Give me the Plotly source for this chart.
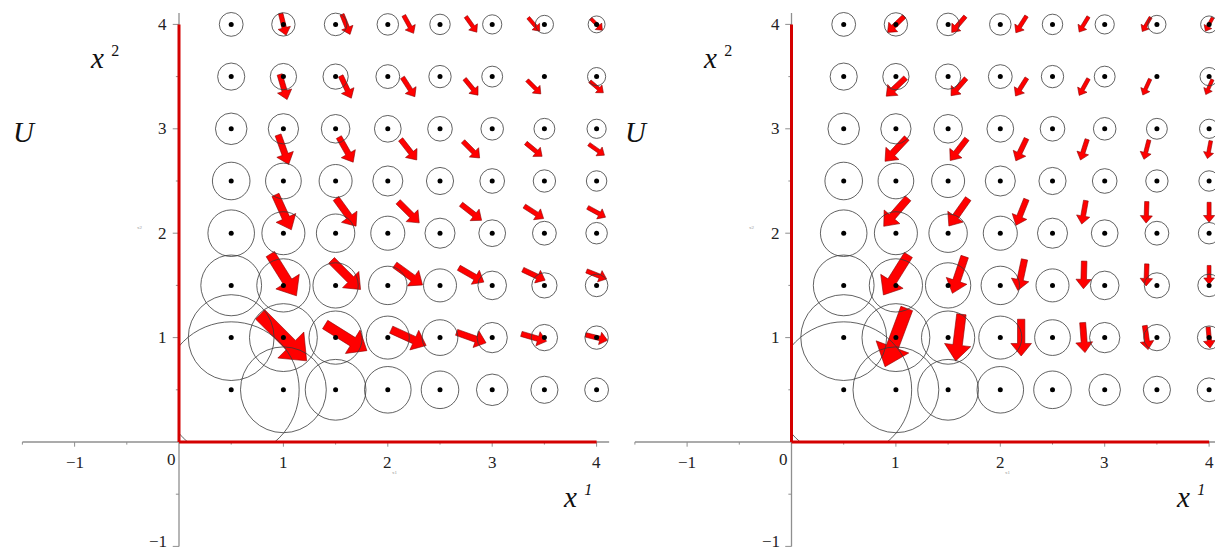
import math
import plotly.graph_objects as go

# ---------------- data ----------------
GRID = [0.5, 1.0, 1.5, 2.0, 2.5, 3.0, 3.5, 4.0]          # circle / dot centres (x1 and x2)
# circle radii (data units); rows = x2 in GRID, columns = x1 in GRID; None = no circle
RADII = [
    [0.651, 0.411, 0.291, 0.223, 0.180, 0.151, 0.130, 0.114],
    [0.411, 0.325, 0.255, 0.206, 0.171, 0.145, 0.126, 0.112],
    [0.291, 0.255, 0.217, 0.184, 0.158, 0.137, 0.121, 0.108],
    [0.223, 0.206, 0.184, 0.163, 0.144, 0.128, 0.114, 0.103],
    [0.180, 0.171, 0.158, 0.144, 0.130, 0.118, 0.107, 0.098],
    [0.151, 0.145, 0.137, 0.128, 0.118, 0.108, 0.100, 0.092],
    [0.130, 0.126, 0.121, 0.114, 0.107, 0.100, None, 0.087],
    [0.114, 0.112, 0.108, 0.103, 0.098, 0.092, 0.087, 0.081],
]

ARROW_X1 = [1.0, 1.6, 2.2, 2.8, 3.4, 4.0]
ARROW_X2 = [1.0, 1.6, 2.2, 2.8, 3.4, 4.0]
# vector components, rows = x2 in ARROW_X2, columns = x1 in ARROW_X1
LEFT_U = [
    [0.445, 0.400, 0.335, 0.282, 0.241, 0.209],
    [0.250, 0.278, 0.265, 0.240, 0.214, 0.192],
    [0.152, 0.192, 0.202, 0.197, 0.185, 0.171],
    [0.101, 0.137, 0.154, 0.159, 0.156, 0.149],
    [0.071, 0.101, 0.119, 0.128, 0.131, 0.129],
    [0.052, 0.077, 0.094, 0.105, 0.110, 0.111],
]
LEFT_V = [
    [-0.445, -0.250, -0.152, -0.101, -0.071, -0.052],
    [-0.400, -0.278, -0.192, -0.137, -0.101, -0.077],
    [-0.335, -0.265, -0.202, -0.154, -0.119, -0.094],
    [-0.282, -0.240, -0.197, -0.159, -0.128, -0.105],
    [-0.241, -0.214, -0.185, -0.156, -0.131, -0.110],
    [-0.209, -0.192, -0.171, -0.149, -0.129, -0.111],
]
RIGHT_U = [
    [-0.208, -0.055, 0.000, 0.022, 0.032, 0.019],
    [-0.239, -0.118, -0.064, -0.007, -0.007, 0.000],
    [-0.233, -0.185, -0.100, -0.040, -0.007, 0.000],
    [-0.208, -0.160, -0.102, -0.064, -0.048, -0.032],
    [-0.185, -0.144, -0.108, -0.089, -0.070, -0.064],
    [-0.160, -0.131, -0.102, -0.089, -0.080, -0.070],
]
RIGHT_V = [
    [-0.558, -0.447, -0.352, -0.287, -0.230, -0.201],
    [-0.383, -0.352, -0.297, -0.265, -0.211, -0.182],
    [-0.268, -0.262, -0.249, -0.225, -0.206, -0.192],
    [-0.223, -0.208, -0.214, -0.198, -0.185, -0.170],
    [-0.175, -0.166, -0.172, -0.160, -0.153, -0.144],
    [-0.153, -0.153, -0.160, -0.147, -0.137, -0.130],
]

X_TICKS_MAJOR = [-1, 1, 2, 3, 4]
X_TICKS_MINOR = [-1.5, -0.5, 0.5, 1.5, 2.5, 3.5]
Y_TICKS_MAJOR = [-1, 1, 2, 3, 4]
Y_TICKS_MINOR = [-0.5, 0.5, 1.5, 2.5, 3.5]
X_TICK_LABELS = ["\u22121", "1", "2", "3", "4"]
Y_TICK_LABELS = ["\u22121", "1", "2", "3", "4"]

# ---------------- layout geometry ----------------
W, H = 1215, 554
S = 104.4                      # px per data unit
ORIG_L = 179.0                 # x-pixel of origin, left panel
ORIG_R = 791.5                 # x-pixel of origin, right panel
ORIG_Y = 442.0                 # y-pixel (from top) of origin
SPLIT = 612.0

SERIF = "Liberation Serif, Times New Roman, serif"
RED = "#d40000"
GRAY = "#8f8f8f"

SW, HW, HL = 0.20, 0.56, 0.34   # arrow shaft width, head width, head length (fractions of length)


def arrow_polys(xs, ys, U, V):
    px, py = [], []
    for j, y in enumerate(ys):
        for i, x in enumerate(xs):
            u, v = U[j][i], V[j][i]
            L = math.hypot(u, v)
            dx, dy = u / L, v / L
            nx, ny = -dy, dx
            tx, ty = x - u / 2, y - v / 2
            hx, hy = x + u / 2, y + v / 2
            bx, by = hx - dx * HL * L, hy - dy * HL * L
            s, h = SW * L / 2, HW * L / 2
            pts = [(tx + nx * s, ty + ny * s), (bx + nx * s, by + ny * s),
                   (bx + nx * h, by + ny * h), (hx, hy),
                   (bx - nx * h, by - ny * h), (bx - nx * s, by - ny * s),
                   (tx - nx * s, ty - ny * s), (tx + nx * s, ty + ny * s)]
            px += [p[0] for p in pts] + [None]
            py += [p[1] for p in pts] + [None]
    return px, py


fig = go.Figure()

yr = [-(H - ORIG_Y) / S, ORIG_Y / S]
panels = [
    dict(main=("x", "y"), quad=("x3", "y3"), orig=ORIG_L, left=0.0, right=SPLIT, U=LEFT_U, V=LEFT_V),
    dict(main=("x2", "y2"), quad=("x4", "y4"), orig=ORIG_R, left=SPLIT, right=W, U=RIGHT_U, V=RIGHT_V),
]

layout_axes = {}
shapes = []
annotations = []


def ax_name(a):
    return ("xaxis" if a[0] == "x" else "yaxis") + a[1:]


for k, p in enumerate(panels):
    mx, my = p["main"]
    qx, qy = p["quad"]
    xr = [(p["left"] - p["orig"]) / S, (p["right"] - p["orig"]) / S]
    layout_axes[ax_name(mx)] = dict(domain=[p["left"] / W, p["right"] / W], range=xr, visible=False,
                                    anchor=my, fixedrange=True)
    layout_axes[ax_name(my)] = dict(domain=[0, 1], range=yr, visible=False, anchor=mx, fixedrange=True)
    layout_axes[ax_name(qx)] = dict(domain=[p["orig"] / W, p["right"] / W], range=[0, xr[1]], visible=False,
                                    anchor=qy, fixedrange=True)
    layout_axes[ax_name(qy)] = dict(domain=[(H - ORIG_Y) / H, 1], range=[0, yr[1]], visible=False,
                                    anchor=qx, fixedrange=True)

    # arrows
    ax_, ay_ = arrow_polys(ARROW_X1, ARROW_X2, p["U"], p["V"])
    fig.add_trace(go.Scatter(x=ax_, y=ay_, mode="lines", fill="toself", fillcolor="#ff0000",
                             line=dict(color="#8a0000", width=0.6), xaxis=mx, yaxis=my,
                             hoverinfo="skip", showlegend=False))

    # dots
    dx_, dy_ = [], []
    for y in GRID:
        for x in GRID:
            dx_.append(x)
            dy_.append(y)
    fig.add_trace(go.Scatter(x=dx_, y=dy_, mode="markers", marker=dict(size=5, color="black"),
                             xaxis=qx, yaxis=qy, cliponaxis=False, hoverinfo="skip", showlegend=False))

    # circles (clipped to the first quadrant subplot)
    for j, y in enumerate(GRID):
        for i, x in enumerate(GRID):
            r = RADII[j][i]
            if r is None:
                continue
            shapes.append(dict(type="circle", xref=qx, yref=qy, x0=x - r, x1=x + r, y0=y - r, y1=y + r,
                               line=dict(color="#3a3a3a", width=0.8), layer="above"))

    # axes
    shapes.append(dict(type="line", xref=mx, yref=my, x0=-1.5, x1=4.12, y0=0, y1=0,
                       line=dict(color=GRAY, width=1.3)))
    shapes.append(dict(type="line", xref=mx, yref=my, x0=0, x1=0, y0=-1.0, y1=4.11,
                       line=dict(color=GRAY, width=1.3)))
    for t in X_TICKS_MAJOR:
        shapes.append(dict(type="line", xref=mx, yref=my, x0=t, x1=t, y0=0, y1=-0.045,
                           line=dict(color=GRAY, width=1)))
    for t in X_TICKS_MINOR:
        shapes.append(dict(type="line", xref=mx, yref=my, x0=t, x1=t, y0=0, y1=-0.025,
                           line=dict(color=GRAY, width=1)))
    for t in Y_TICKS_MAJOR:
        shapes.append(dict(type="line", xref=mx, yref=my, x0=0, x1=-0.06, y0=t, y1=t,
                           line=dict(color=GRAY, width=1)))
    for t in Y_TICKS_MINOR:
        shapes.append(dict(type="line", xref=mx, yref=my, x0=0, x1=-0.03, y0=t, y1=t,
                           line=dict(color=GRAY, width=1)))
    shapes.append(dict(type="line", xref=mx, yref=my, x0=0, x1=4, y0=0, y1=0,
                       line=dict(color=RED, width=3)))
    shapes.append(dict(type="line", xref=mx, yref=my, x0=0, x1=0, y0=0, y1=4,
                       line=dict(color=RED, width=3)))

    # tick labels
    for t, lab in zip(X_TICKS_MAJOR, X_TICK_LABELS):
        annotations.append(dict(x=t, y=-0.195, xref=mx, yref=my, text=lab, showarrow=False,
                                font=dict(family=SERIF, size=17, color="#222"),
                                xanchor="center", yanchor="middle"))
    for t, lab in zip(Y_TICKS_MAJOR, Y_TICK_LABELS):
        if t == -1:
            annotations.append(dict(x=-0.095, y=yr[0] + 0.005, xref=mx, yref=my, text=lab, showarrow=False,
                                    font=dict(family=SERIF, size=17, color="#222"),
                                    xanchor="right", yanchor="bottom"))
        else:
            annotations.append(dict(x=-0.095, y=t, xref=mx, yref=my, text=lab, showarrow=False,
                                    font=dict(family=SERIF, size=17, color="#222"),
                                    xanchor="right", yanchor="middle"))
    annotations.append(dict(x=-0.075, y=-0.17, xref=mx, yref=my, text="0", showarrow=False,
                            font=dict(family=SERIF, size=17, color="#222"),
                            xanchor="center", yanchor="middle"))

    # axis titles
    annotations.append(dict(x=-1.61, y=2.97, xref=mx, yref=my, text="<i>U</i>", showarrow=False,
                            font=dict(family=SERIF, size=29, color="#111"),
                            xanchor="left", yanchor="middle"))
    annotations.append(dict(x=-0.87, y=3.68, xref=mx, yref=my,
                            text="<i>x</i> <sup><span style='font-size:16px'>2</span></sup>",
                            showarrow=False, font=dict(family=SERIF, size=29, color="#111"),
                            xanchor="left", yanchor="middle"))
    annotations.append(dict(x=3.66, y=-0.53, xref=mx, yref=my,
                            text="<i>x <sup><span style='font-size:16px'>1</span></sup></i>",
                            showarrow=False, font=dict(family=SERIF, size=29, color="#111"),
                            xanchor="left", yanchor="middle"))
    # tiny axis names
    annotations.append(dict(x=-0.375, y=2.05, xref=mx, yref=my, text="x2", showarrow=False,
                            font=dict(family=SERIF, size=5, color="#999"), xanchor="center"))
    annotations.append(dict(x=2.07, y=-0.29, xref=mx, yref=my, text="x1", showarrow=False,
                            font=dict(family=SERIF, size=5, color="#999"), xanchor="center"))

fig.update_layout(
    width=W, height=H,
    margin=dict(l=0, r=0, t=0, b=0),
    paper_bgcolor="white", plot_bgcolor="rgba(0,0,0,0)",
    showlegend=False,
    shapes=shapes,
    annotations=annotations,
    **layout_axes,
)

fig.write_html("out.html", config={"displayModeBar": False, "staticPlot": True},
               post_script="document.body.style.margin='0';document.body.style.overflow='hidden';")
